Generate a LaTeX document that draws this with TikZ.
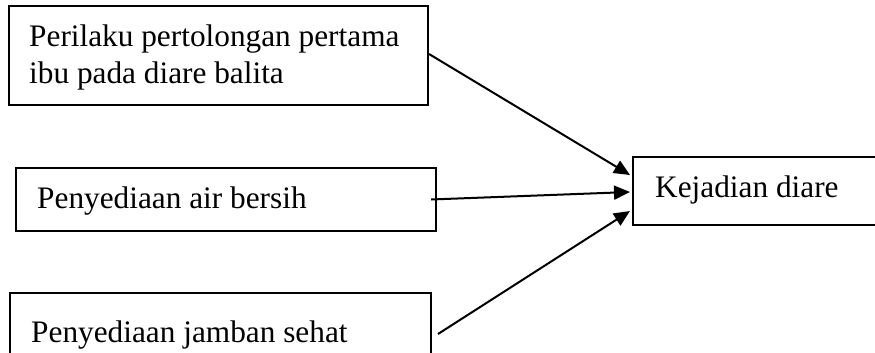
\documentclass[tikz,border=0pt]{standalone}
\usepackage{fontspec}
\setmainfont{Liberation Serif}
\usetikzlibrary{arrows.meta,calc}
\tikzset{
  box/.style={draw, line width=2pt, rectangle, inner sep=0pt},
  lbl/.style={anchor=base west, inner sep=0pt, font=\fontsize{31.3}{36}\selectfont},
  conn/.style={line width=2pt, -{Triangle[length=16pt,width=14pt]}}
}
\begin{document}
\begin{tikzpicture}[x=1pt,y=-1pt]
\useasboundingbox (0,0) rectangle (875,353);
\clip (0,0) rectangle (875,353);
% boxes
\node[box, minimum width=419pt, minimum height=98pt] (b1) at (218.5,55.5) {};
\node[box, minimum width=420pt, minimum height=63pt] (b2) at (226,199.5) {};
\node[box, minimum width=421pt, minimum height=90pt] (b3) at (220.5,338) {};
\node[box, minimum width=260pt, minimum height=68pt] (k) at (763,191) {};
% texts
\node[lbl] (t1a) at (29,47) {Perilaku pertolongan pertama};
\node[lbl] (t1b) at (29,83) {ibu pada diare balita};
\node[lbl] (t2) at (37,208) {Penyediaan air bersih};
\node[lbl] (t3) at (31,342) {Penyediaan jamban sehat};
\node[lbl] (t4) at (655,197) {Kejadian diare};
% connector ends
\coordinate (s1) at ($(b1.east)+(0,-1.5)$);
\coordinate (s2) at ($(b2.east)+(-6,0)$);
\coordinate (s3) at ($(b3.east)+(6,-4)$);
\coordinate (e1) at ($(k.west)+(-2,-16)$);
\coordinate (e2) at ($(k.west)+(-2,1)$);
\coordinate (e3) at ($(k.west)+(-2,20)$);
\draw[conn] (s1) -- (e1);
\draw[conn] (s2) -- (e2);
\draw[conn] (s3) -- (e3);
\end{tikzpicture}
\end{document}
